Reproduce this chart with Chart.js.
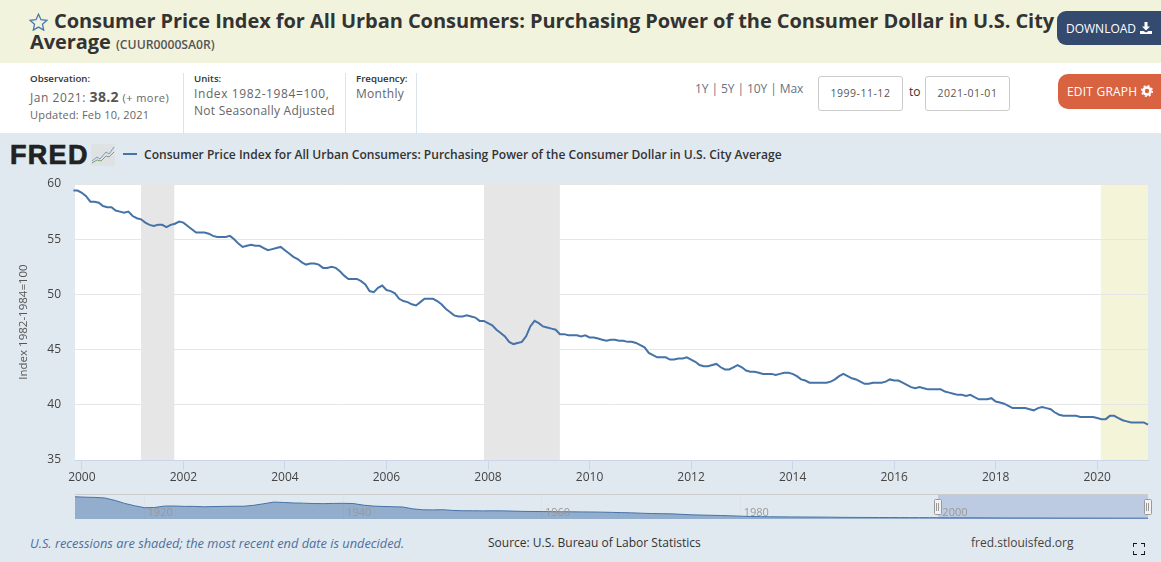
<!DOCTYPE html>
<html><head><meta charset="utf-8">
<script src="https://cdn.jsdelivr.net/npm/chart.js@4/dist/chart.umd.min.js"></script>
<style>
html,body{margin:0;padding:0;width:1161px;height:562px;overflow:hidden;background:#e1e9f0;font-family:"Open Sans",sans-serif;}
.a{position:absolute;white-space:nowrap;line-height:1;}
#head{position:absolute;left:0;top:0;width:1161px;height:63px;background:#f2f3dd;}
#info{position:absolute;left:0;top:63px;width:1161px;height:70px;background:#fff;}
.div{position:absolute;top:73px;height:60px;width:1px;background:#d8e4ee;}
.t{font-weight:700;font-size:20px;color:#333;letter-spacing:-.06px;}
.lb{font-weight:600;font-size:9.700px;color:#333;}
.v{font-size:12px;color:#666;letter-spacing:.55px;}
.box{position:absolute;top:76px;height:33px;width:83px;border:1px solid #ccc;border-radius:3px;background:#fff;color:#555;font-size:10.5px;text-align:center;line-height:33px;letter-spacing:.5px;}
.btn{position:absolute;color:#fff;font-size:12px;display:flex;align-items:center;white-space:nowrap;}
canvas{position:absolute;display:block;}
</style></head><body>
<div id="head"></div><div id="info"></div>
<svg class="a" style="left:29px;top:13px" width="19" height="18" viewBox="0 0 24 23"><path d="M12 1.5l3.2 7 7.6.8-5.7 5.1 1.6 7.5L12 18l-6.7 3.9 1.6-7.5L1.2 9.3l7.6-.8z" fill="none" stroke="#4a78b0" stroke-width="1.7"/></svg>
<div class="a t" style="left:54px;top:11px">Consumer Price Index for All Urban Consumers: Purchasing Power of the Consumer Dollar in U.S. City</div>
<div class="a t" style="left:30px;top:32px">Average <span style="font-size:12.200px;color:#555;font-weight:600;letter-spacing:0">(CUUR0000SA0R)</span></div>
<div class="btn" style="left:1057px;top:11px;width:104px;height:34px;background:#354a6f;border-radius:9px 0 0 9px;padding-left:9px;box-sizing:border-box;">DOWNLOAD<svg style="margin-left:4px" width="12" height="12" viewBox="0 0 12 12"><path d="M4.5 0h3v4.5H10L6 8.5 2 4.5h2.500zM0 9h3.500l2.500 1.500L8.500 9H12v3H0z" fill="#fff"/></svg></div>
<div class="btn" style="left:1058px;top:74px;width:103px;height:35px;background:#d96240;border-radius:10px 0 0 10px;padding:0 0 1px 9px;box-sizing:border-box;letter-spacing:.2px;">EDIT GRAPH<svg style="margin-left:4px" width="12" height="12" viewBox="0 0 12 12"><circle cx="6" cy="6" r="3.500" fill="none" stroke="#fff" stroke-width="2.600"/><circle cx="6" cy="6" r="5.300" fill="none" stroke="#fff" stroke-width="1.500" stroke-dasharray="2 2.160"/></svg></div>
<div class="a lb" style="left:30px;top:74px">Observation:</div>
<div class="a v" style="left:30px;top:90px">Jan 2021: <b style="font-size:14px;color:#555;letter-spacing:.3px">38.2</b> <span style="font-size:11px;letter-spacing:.45px">(+ more)</span></div>
<div class="a v" style="left:30px;top:109px;font-size:11px;letter-spacing:.2px;">Updated: Feb 10, 2021</div>
<div class="div" style="left:183px"></div><div class="div" style="left:345px"></div><div class="div" style="left:416px"></div>
<div class="a lb" style="left:194px;top:74px">Units:</div>
<div class="a v" style="left:194px;top:88px;letter-spacing:.6px">Index 1982-1984=100,</div>
<div class="a v" style="left:194px;top:105px;letter-spacing:.25px">Not Seasonally Adjusted</div>
<div class="a lb" style="left:356px;top:74px">Frequency:</div>
<div class="a v" style="left:356px;top:88px;letter-spacing:.3px">Monthly</div>
<div class="a v" style="left:695px;top:83px;color:#6a7280;letter-spacing:-.08px">1Y | 5Y | 10Y | Max</div>
<div class="box" style="left:818px">1999-11-12</div>
<div class="a" style="left:909px;top:86px;font-size:12px;color:#333;">to</div>
<div class="box" style="left:925px">2021-01-01</div>
<div class="a" style="left:10px;top:142px;font-family:'Liberation Sans';font-weight:700;font-size:27px;color:#222;letter-spacing:1.300px;-webkit-text-stroke:.7px #222;">FRED</div>
<svg class="a" style="left:91px;top:144px" width="24" height="22" viewBox="0 0 24 22"><rect width="24" height="22" rx="2" fill="#dfe2e3"/><path d="M1 17l5-4 3 2 6-7 3 2 5-7" fill="none" stroke="#7d9cc0" stroke-width="1"/><path d="M1 19l5-3 4 1 5-5 3 1 5-5" fill="none" stroke="#7ea36c" stroke-width="1"/></svg>
<div class="a" style="left:123px;top:153px;width:14px;height:2px;background:#4572a7"></div>
<div class="a" id="leg" style="left:144px;top:149px;font-size:12.050px;font-weight:600;color:#333;">Consumer Price Index for All Urban Consumers: Purchasing Power of the Consumer Dollar in U.S. City Average</div>
<canvas id="main" style="left:0;top:170px;width:1161px;height:320px"></canvas>
<canvas id="nav" style="left:0;top:490px;width:1161px;height:35px"></canvas>
<div class="a" style="left:30px;top:537px;font-size:12.800px;font-style:italic;color:#4d6f9c;">U.S. recessions are shaded; the most recent end date is undecided.</div>
<div class="a" style="left:488px;top:537px;font-size:12px;color:#333;">Source: U.S. Bureau of Labor Statistics</div>
<div class="a" style="left:971px;top:537px;font-size:12px;color:#444;">fred.stlouisfed.org</div>
<svg class="a" style="left:1133px;top:543px" width="12" height="12" viewBox="0 0 12 12"><path d="M0 4V0h4M8 0h4v4M12 8v4H8M4 12H0V8" fill="none" stroke="#111" stroke-width="1.800"/></svg>
<script>
// Monthly values, Nov 1999 .. Jan 2021
const seriesName = "Consumer Price Index for All Urban Consumers: Purchasing Power of the Consumer Dollar in U.S. City Average";
const firstYear = 1999, firstMonth = 10; // zero-based month of first observation
const purchasingPower = [
59.4,59.4,
59.2,58.9,58.4,58.4,58.3,58.0,57.9,57.9,57.6,57.5,57.4,57.5,
57.1,56.9,56.8,56.5,56.3,56.2,56.3,56.3,56.1,56.3,56.4,56.6,
56.5,56.2,55.9,55.6,55.6,55.6,55.5,55.3,55.2,55.2,55.2,55.3,
55.0,54.6,54.3,54.4,54.5,54.4,54.4,54.2,54.0,54.1,54.2,54.3,
54.0,53.7,53.4,53.2,52.9,52.7,52.8,52.8,52.7,52.4,52.4,52.5,
52.4,52.1,51.7,51.4,51.4,51.4,51.2,50.9,50.3,50.2,50.6,50.8,
50.4,50.3,50.1,49.6,49.4,49.3,49.1,49.0,49.3,49.6,49.6,49.6,
49.4,49.1,48.7,48.4,48.1,48.0,48.0,48.1,48.0,47.9,47.6,47.6,
47.4,47.2,46.8,46.5,46.2,45.7,45.5,45.6,45.7,46.2,47.1,47.6,
47.4,47.1,47.0,46.9,46.8,46.4,46.4,46.3,46.3,46.3,46.2,46.3,
46.1,46.1,46.0,45.9,45.8,45.9,45.9,45.8,45.8,45.7,45.7,45.6,
45.4,45.2,44.7,44.5,44.3,44.3,44.3,44.1,44.1,44.2,44.2,44.3,
44.1,43.9,43.6,43.5,43.5,43.6,43.7,43.4,43.2,43.2,43.4,43.6,
43.4,43.1,43.0,43.0,42.9,42.8,42.8,42.8,42.7,42.8,42.9,42.9,
42.8,42.6,42.3,42.2,42.0,42.0,42.0,42.0,42.0,42.1,42.3,42.6,
42.8,42.6,42.4,42.3,42.1,41.9,41.9,42.0,42.0,42.0,42.1,42.3,
42.2,42.2,42.0,41.8,41.6,41.5,41.6,41.5,41.4,41.4,41.4,41.4,
41.2,41.1,41.0,40.9,40.9,40.8,40.9,40.7,40.5,40.5,40.5,40.6,
40.3,40.2,40.1,39.9,39.7,39.7,39.7,39.7,39.6,39.5,39.7,39.8,
39.7,39.6,39.3,39.1,39.0,39.0,39.0,39.0,38.9,38.9,38.9,38.9,
38.8,38.7,38.7,39.0,39.0,38.8,38.6,38.5,38.4,38.4,38.4,38.4,
38.2];
const xTickYears = [2000,2002,2004,2006,2008,2010,2012,2014,2016,2018,2020];
const yTickValues = [35,40,45,50,55,60];
const recessions = [[2001.167,2001.82],[2007.92,2009.415]];
const currentPeriod = [2020.07,2021.0];
const viewRange = [1999.865,2021.0];
// Annual navigator series, 1913 .. 2021
const navFirstYear = 1913;
const navValues = [1020,1000,990,962,855,714,606,518,526,592,595,578,578,559,571,578,585,585,629,699,775,758,735,725,709,704,714,719,709,637,592,575,562,549,465,422,417,426,394,377,376,372,375,373,362,350,345,341,336,333,329,324,321,314,304,293,281,265,251,243,235,215,192,180,171,160,146,129,115,106,102,98,95,91,90,86,83,78,74,72,70,68,67,65,63,62,61,59,57,56,55,54,52,50,49,47,47,46,45,44,43,43,43,42,41,40,40,39,38];
const navTickYears = [1920,1940,1960,1980,2000];

const dec = (i)=>firstYear+(firstMonth+i)/12;
const linePts = purchasingPower.map((v,i)=>({x:dec(i),y:v}));
const navPts = navValues.map((v,i)=>({x:navFirstYear+i,y:v}));

const bands = {id:'bands',beforeDraw(c){
  const {ctx,chartArea:a,scales:{x}}=c;
  ctx.save();ctx.fillStyle='#fff';ctx.fillRect(a.left,a.top,a.width,a.height);
  ctx.fillStyle='#e6e6e6';
  recessions.forEach(r=>{const p=x.getPixelForValue(r[0]),q=x.getPixelForValue(r[1]);ctx.fillRect(p,a.top,q-p,a.height);});
  ctx.fillStyle='#f4f4d8';
  const p=x.getPixelForValue(currentPeriod[0]),q=x.getPixelForValue(currentPeriod[1]);ctx.fillRect(p,a.top,q-p,a.height);
  ctx.restore();
}};
new Chart(document.getElementById('main'),{type:'line',plugins:[bands],
 data:{datasets:[{label:seriesName,data:linePts,borderColor:'#4572a7',borderWidth:2,pointRadius:0,tension:0,fill:false,clip:false}]},
 options:{responsive:false,animation:false,devicePixelRatio:1,
  layout:{padding:{left:0,right:13,top:14,bottom:0}},
  plugins:{legend:{display:false},tooltip:{enabled:false}},
  scales:{
   x:{type:'linear',min:viewRange[0],max:viewRange[1],
      afterBuildTicks(s){s.ticks=xTickYears.map(v=>({value:v}));},
      afterFit(s){s.height=30;},
      border:{color:'#ccd6eb',width:1},
      grid:{drawOnChartArea:false,drawTicks:true,tickLength:10,color:'#ccd6eb'},
      ticks:{color:'#444',font:{family:'Open Sans',size:12},padding:0,maxRotation:0,autoSkip:false,callback:v=>String(v)}},
   y:{min:35,max:60,
      afterBuildTicks(s){s.ticks=yTickValues.map(v=>({value:v}));},
      afterFit(s){s.width=75;},
      border:{display:false},
      grid:{color:'#e6e6e6',drawTicks:true,tickLength:14,tickColor:'rgba(0,0,0,0)',lineWidth:1},
      ticks:{color:'#444',font:{family:'Open Sans',size:12},padding:0},
      title:{display:true,text:'Index 1982-1984=100',color:'#555',font:{family:'Open Sans',size:11.5},padding:{top:17,bottom:0}}}
  }}
});
const mask = {id:'mask',afterDatasetsDraw(c){
  const {ctx,chartArea:a,scales:{x}}=c;
  const p=x.getPixelForValue(viewRange[0]),q=x.getPixelForValue(viewRange[1]);
  ctx.save();
  ctx.fillStyle='rgba(102,133,194,0.3)';ctx.fillRect(p,a.top,q-p,a.height);
  ctx.strokeStyle='#ccc';ctx.lineWidth=1;ctx.beginPath();ctx.moveTo(a.left,a.top-.5);ctx.lineTo(a.right,a.top-.5);ctx.stroke();
  [p,q].forEach(h=>{
    ctx.fillStyle='#f2f2f2';ctx.strokeStyle='#999';ctx.beginPath();ctx.roundRect(Math.round(h)-3.5,a.top+4.5,7,15,1);ctx.fill();ctx.stroke();
    ctx.beginPath();ctx.moveTo(Math.round(h)-1.5,a.top+8);ctx.lineTo(Math.round(h)-1.5,a.top+16);ctx.moveTo(Math.round(h)+.5,a.top+8);ctx.lineTo(Math.round(h)+.5,a.top+16);ctx.stroke();
  });
  ctx.restore();
}};
new Chart(document.getElementById('nav'),{type:'line',plugins:[mask],
 data:{datasets:[{label:seriesName,data:navPts,borderColor:'#4572a7',borderWidth:1,pointRadius:0,tension:0,fill:'origin',backgroundColor:'rgba(69,114,167,0.5)'}]},
 options:{responsive:false,animation:false,devicePixelRatio:1,
  layout:{padding:{left:75,right:13,top:5,bottom:6}},
  plugins:{legend:{display:false},tooltip:{enabled:false}},
  scales:{
   x:{type:'linear',min:1913,max:2021,
      afterBuildTicks(s){s.ticks=navTickYears.map(v=>({value:v}));},
      afterFit(s){s.height=0;},
      border:{display:false},
      grid:{drawOnChartArea:true,drawTicks:false,color:'#dde3ea'},
      ticks:{color:'#999',z:1,mirror:true,align:'start',padding:0,labelOffset:3,font:{family:'Open Sans',size:11},maxRotation:0,autoSkip:false,callback:v=>String(v)}},
   y:{display:false,min:0,max:1100,afterFit(s){s.width=0;}}
  }}
});
</script>
</body></html>
